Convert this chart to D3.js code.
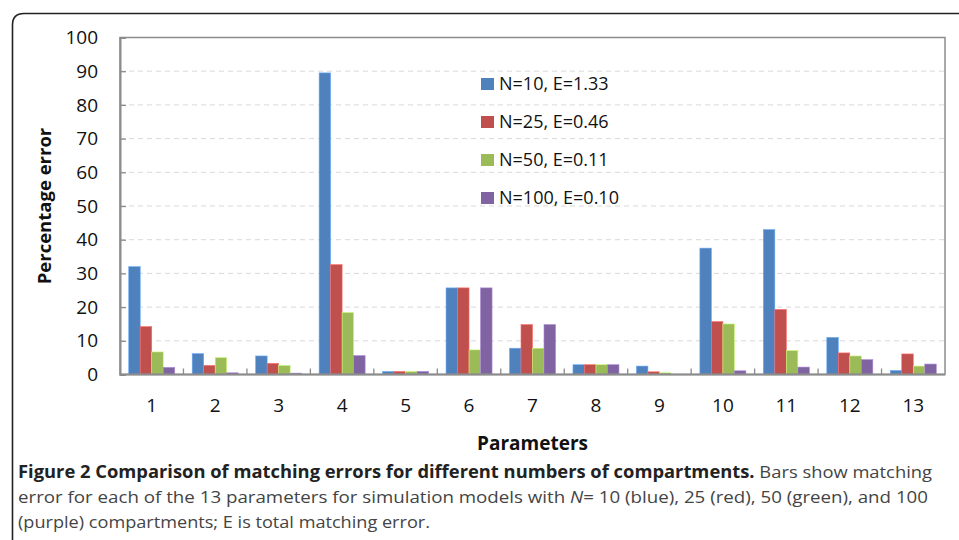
<!DOCTYPE html>
<html><head><meta charset="utf-8">
<script src="https://cdn.jsdelivr.net/npm/d3@7"></script>
<style>body{margin:0;background:#fff;} svg{display:block;}</style>
</head><body>
<svg id="c" width="959" height="540"></svg>
<script>
const categories = ["1","2","3","4","5","6","7","8","9","10","11","12","13"];
const seriesNames = ["N=10, E=1.33","N=25, E=0.46","N=50, E=0.11","N=100, E=0.10"];
const seriesColors = ["#4F81BD","#C0504D","#9BBB59","#8064A2"];
const n10  = [32, 6.2, 5.5, 89.5, 0.9, 25.7, 7.8, 2.9, 2.5, 37.5, 43.0, 11.0, 1.2];
const n25  = [14.2, 2.7, 3.3, 32.6, 0.9, 25.7, 14.8, 2.9, 0.8, 15.7, 19.3, 6.4, 6.1];
const n50  = [6.7, 5.0, 2.7, 18.4, 0.9, 7.3, 7.8, 2.9, 0.5, 15.0, 7.1, 5.5, 2.5];
const n100 = [2.1, 0.5, 0.4, 5.6, 0.9, 25.7, 14.8, 2.9, 0, 1.1, 2.2, 4.4, 3.1];
const yTicks = [0,10,20,30,40,50,60,70,80,90,100];
const xTitle = "Parameters";
const yTitle = "Percentage error";
const captionBold = "Figure 2 Comparison of matching errors for different numbers of compartments.";

const series = [n10, n25, n50, n100];
const svg = d3.select("#c");
const L = 120, R = 945, T = 37.5, B = 374.5;

// outer frame
svg.append("path")
  .attr("d", `M12.5,545 L12.5,25 Q12.5,13.5 24,13.5 L965,13.5`)
  .attr("fill","none").attr("stroke","#222").attr("stroke-width",1.6);

const x = d3.scaleBand().domain(categories).range([L, R]).paddingInner(0.275).paddingOuter(0.1375);
const xs = d3.scaleBand().domain(d3.range(4)).range([0, x.bandwidth()]);
const y = d3.scaleLinear().domain([0,100]).range([B, T]);

// gridlines
svg.append("g").selectAll("line").data(yTicks.filter(d => d > 0 && d < 100)).join("line")
  .attr("x1", L).attr("x2", R).attr("y1", d => y(d)).attr("y2", d => y(d))
  .attr("stroke","#d9d9d9").attr("stroke-width",1).attr("stroke-dasharray","5,4");

// bars
const g = svg.append("g");
series.forEach((s, si) => {
  g.selectAll(null).data(s).join("rect")
    .attr("x", (d,i) => x(categories[i]) + xs(si))
    .attr("width", xs.bandwidth())
    .attr("y", d => y(d))
    .attr("height", d => y(0) - y(d))
    .attr("fill", seriesColors[si])
    .attr("stroke", d3.color(seriesColors[si]).brighter(0.8))
    .attr("stroke-width", 0.6);
});

// plot frame
svg.append("rect").attr("x",L).attr("y",T).attr("width",R-L).attr("height",B-T)
  .attr("fill","none").attr("stroke","#8c8c8c").attr("stroke-width",1.5);

// y axis (ticks inside)
const yAxis = d3.axisRight(y).tickValues(yTicks).tickSize(6).tickFormat("");
const ya = svg.append("g").attr("transform",`translate(${L},0)`).call(yAxis);
ya.select(".domain").attr("stroke","#8c8c8c").attr("stroke-width",2);
ya.selectAll(".tick line").attr("stroke","#8c8c8c").attr("stroke-width",1.3);
svg.append("g").selectAll("text").data(yTicks).join("text")
  .attr("x", 98).attr("y", d => y(d)).attr("dy","0.35em")
  .attr("text-anchor","end").attr("font-family","Open Sans").attr("font-size",19)
  .attr("fill","#111").text(d => d);

// x axis
svg.append("line").attr("x1",L).attr("x2",R).attr("y1",B).attr("y2",B)
  .attr("stroke","#8c8c8c").attr("stroke-width",2);
const bounds = categories.slice(1).map(c => x(c) - x.step()*x.paddingInner()/2);
svg.append("g").selectAll("line").data(bounds).join("line")
  .attr("x1", d => d).attr("x2", d => d).attr("y1", B).attr("y2", B-6)
  .attr("stroke","#8c8c8c").attr("stroke-width",1.3);
svg.append("g").selectAll("text").data(categories).join("text")
  .attr("x", d => x(d) + x.bandwidth()/2).attr("y", 405).attr("dy","0.35em")
  .attr("text-anchor","middle").attr("font-family","Open Sans").attr("font-size",19)
  .attr("fill","#111").text(d => d);

// titles
svg.append("text").attr("x",(L+R)/2).attr("y",443).attr("dy","0.35em")
  .attr("text-anchor","middle").attr("font-family","Open Sans").attr("font-weight","bold")
  .attr("font-size",19).attr("fill","#111").text(xTitle);
svg.append("text").attr("transform",`translate(45,${(T+B)/2}) rotate(-90)`).attr("dy","0.35em")
  .attr("text-anchor","middle").attr("font-family","Open Sans").attr("font-weight","bold")
  .attr("font-size",18.5).attr("fill","#111").text(yTitle);

// legend
const lg = svg.append("g").selectAll("g").data(seriesNames).join("g")
  .attr("transform",(d,i) => `translate(481,${84 + i*38})`);
lg.append("rect").attr("x",0).attr("y",-6).attr("width",13).attr("height",12)
  .attr("fill",(d,i) => seriesColors[i]);
lg.append("text").attr("x",18).attr("dy","0.35em").attr("font-family","Open Sans")
  .attr("font-size",18).attr("fill","#111").text(d => d);

// caption
const cap = svg.append("g").attr("font-family","Open Sans").attr("font-size",17).attr("fill","#222");
const t1 = cap.append("text").attr("x",18).attr("y",478);
t1.append("tspan").attr("font-weight","bold").text(captionBold);
t1.append("tspan").attr("fill","#444").text(" Bars show matching");
t1.attr("textLength", 914).attr("lengthAdjust","spacingAndGlyphs");
const t2 = cap.append("text").attr("x",18).attr("y",503).attr("fill","#444");
t2.append("tspan").text("error for each of the 13 parameters for simulation models with ");
t2.append("tspan").attr("font-style","italic").text("N");
t2.append("tspan").text("= 10 (blue), 25 (red), 50 (green), and 100");
t2.attr("textLength", 910).attr("lengthAdjust","spacingAndGlyphs");
const t3 = cap.append("text").attr("x",18).attr("y",528).attr("fill","#444")
  .text("(purple) compartments; E is total matching error.")
  .attr("textLength", 412).attr("lengthAdjust","spacingAndGlyphs");
</script>
</body></html>
